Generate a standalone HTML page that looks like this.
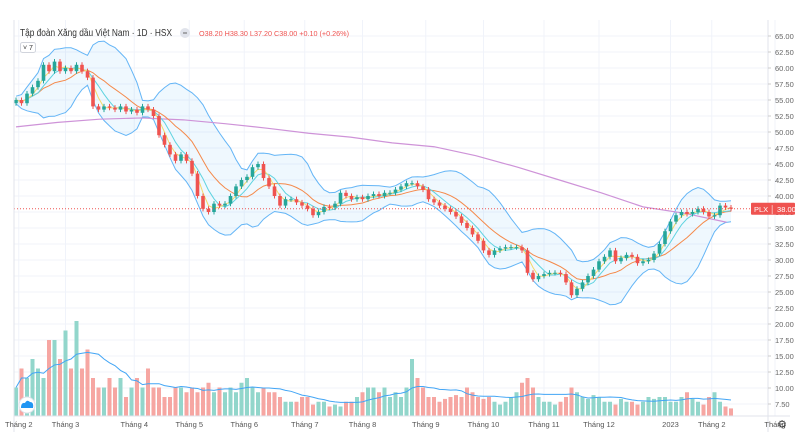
<!DOCTYPE html>
<html><head><meta charset="utf-8">
<style>
body{margin:0;background:#fff;font-family:"Liberation Sans","Noto Sans CJK SC",sans-serif;}
#wrap{position:relative;width:811px;height:445px;overflow:hidden;}
svg text{font-family:"Liberation Sans","Noto Sans CJK SC",sans-serif;}
</style></head>
<body>
<div id="wrap">
<svg id="chart" width="811" height="445"></svg>
</div>
<script>
const closes=[55.0,54.5,56,57,58,60.5,59.5,61,59.5,60,59.5,60.5,59.5,58.5,54,53.5,54,53.8,53.5,54,53.2,53.5,53,54,53.5,52.5,49.5,48,46.5,45.5,46.5,45.5,43.5,40,38,37.5,38.8,38.5,38.8,40,41.5,42.5,43,44.5,45,42.8,41.5,40,38.5,39.5,39.5,39,38.5,38,37,37.5,38.3,38.2,38.8,40.5,40,39.5,39.8,39.5,40,40.3,40,40.5,40.5,41,41.5,42,42,41.5,41,39.5,39,38.5,38,37.5,36.8,35.8,35,34,33,31.5,30.8,31.5,31.8,32,32,32,31.5,28,27,27.5,27.8,28,28,27.8,26.5,24.5,25.5,26.5,27.5,28.5,29.8,30.5,31.5,29.8,30.3,30.8,30.5,29.5,29.8,30,31,32.5,34.5,36,37,37.5,37.2,37.5,38,37.5,36.8,37,38.5,38.2,38.0];
const volumes=[3,5,4,6,5,4,8,8,6,9,5,10,5,7,4,3,3,4,3,4,2,3,4,3,5,3,3,2,2,3,3,2.5,3,2.5,3,3.5,2.5,3,2.5,3,2.5,3.5,4,3,2.5,3,2.5,2.5,2,1.5,1.5,1.5,2,2,1.2,1.5,1.5,1,1.2,1,1.5,1.5,2,2.5,3,3,2.5,3,2,2.5,2,3,6,4,3,2,2,1.5,1.8,2,2.2,2,3,2.5,2,1.8,2,1.5,1.2,1.5,2,2.5,3.5,4,3,2,1.5,1.5,1.2,1.5,2,3,2.5,2,1.8,2.2,2,1.5,1.5,1.2,1.8,1.5,1.5,1.2,1.5,2,1.8,2,2,1.5,1.5,2,2.5,1.8,1.5,1.2,2,2.5,1.5,1,0.8];
const ma200=[50.8,51.5,52,52.2,51.9,51.3,50.6,49.8,49.2,48.3,47.7,46.3,44.5,42.5,40.5,38.3,37.3,35.9];
const priceTicks=["65.00","62.50","60.00","57.50","55.00","52.50","50.00","47.50","45.00","42.50","40.00","37.50","35.00","32.50","30.00","27.50","25.00","22.50","20.00","17.50","15.00","12.50","10.00","7.50"];
const monthLabels=["Tháng 2","Tháng 3","Tháng 4","Tháng 5","Tháng 6","Tháng 7","Tháng 8","Tháng 9","Tháng 10","Tháng 11","Tháng 12","2023","Tháng 2","Tháng"];
const monthIdx=[0.5,9,21.5,31.5,41.5,52.5,63,74.5,85,96,106,119,126.5,138];

const NS="http://www.w3.org/2000/svg";
const svg=document.getElementById('chart');
function el(t,a,p){const e=document.createElementNS(NS,t);for(const k in a)e.setAttribute(k,a[k]);(p||svg).appendChild(e);return e;}
const y=p=>36+(65-p)*6.4;
const x=i=>16+i*5.5;
const vy=v=>416-v*9.5;
const L=14,R=768,B=416;

priceTicks.forEach(t=>{const g=el('line',{x1:L,x2:R,y1:y(+t),y2:y(+t),stroke:'#f0f3fa','stroke-width':1});
});
monthIdx.forEach(m=>{const g=el('line',{x1:x(m),x2:x(m),y1:20,y2:B,stroke:'#f0f3fa'});
});

function sma(n){return closes.map((c,i)=>{const s=closes.slice(Math.max(0,i-n+1),i+1);return s.reduce((a,b)=>a+b,0)/s.length;});}
const bw=10, mid=sma(bw);
const up=[],lo=[];
closes.forEach((c,i)=>{const s=closes.slice(Math.max(0,i-bw+1),i+1);const m=mid[i];const sd=Math.sqrt(s.reduce((a,b)=>a+(b-m)*(b-m),0)/s.length);up.push(m+2*sd+0.6);lo.push(m-2*sd-0.6);});
const path=arr=>arr.map((v,i)=>(i?'L':'M')+x(i).toFixed(1)+' '+y(v).toFixed(1)).join(' ');
let fill=path(up)+' '+lo.map((v,i)=>i).reverse().map(i=>'L'+x(i).toFixed(1)+' '+y(lo[i]).toFixed(1)).join(' ')+'Z';
const bf=el('path',{d:fill,fill:'rgba(33,150,243,0.07)'});
const bu=el('path',{d:path(up),fill:'none',stroke:'#64b5f6','stroke-width':1});
const bl=el('path',{d:path(lo),fill:'none',stroke:'#64b5f6','stroke-width':1});
const m2=el('path',{d:ma200.map((v,k)=>(k?'L':'M')+x(Math.min(k*7.6,130))+' '+y(v)).join(' '),fill:'none',stroke:'#ce93d8','stroke-width':1.2});

const mO=el('path',{d:path(sma(10)),fill:'none',stroke:'#f5894a','stroke-width':1});
const mC=el('path',{d:path(sma(5)),fill:'none',stroke:'#5fd3e0','stroke-width':1});
const mY=el('path',{d:path(sma(3)),fill:'none',stroke:'#f5d96b','stroke-width':1});

volumes.forEach((v,i)=>{const upb=i==0||closes[i]>=closes[i-1];
const r=el('rect',{x:x(i)-2,y:vy(v),width:4,height:B-vy(v),fill:upb?'#92d6cb':'#f6a6a2'});
});
const vma=volumes.map((v,i)=>{const s=volumes.slice(Math.max(0,i-9),i+1);return s.reduce((a,b)=>a+b,0)/s.length;});
const vl=el('path',{d:vma.map((v,i)=>(i?'L':'M')+x(i)+' '+vy(v)).join(' '),fill:'none',stroke:'#42a5f5','stroke-width':1});


closes.forEach((c,i)=>{const o=i?closes[i-1]:c-0.5;const upc=c>=o;const col=upc?'#26a69a':'#ef5350';
const hi=Math.max(o,c)+0.4,lw=Math.min(o,c)-0.4;
const w=el('line',{x1:x(i),x2:x(i),y1:y(hi),y2:y(lw),stroke:col,'stroke-width':1});

const b=el('rect',{x:x(i)-1.8,y:y(Math.max(o,c)),width:3.6,height:Math.max(1,Math.abs(y(o)-y(c))),fill:col});
});

const lp=el('line',{x1:L,x2:R,y1:y(38),y2:y(38),stroke:'#ef5350','stroke-width':1,'stroke-dasharray':'1 2'});


const ax=el('line',{x1:R,x2:R,y1:20,y2:432,stroke:'#e0e3eb'});
const axl=el('line',{x1:L,x2:L,y1:20,y2:432,stroke:'#e0e3eb'});
const axb=el('line',{x1:L,x2:790,y1:B,y2:B,stroke:'#e0e3eb'});
priceTicks.forEach(t=>{const tx=el('text',{x:775,y:y(+t)+3,'font-size':7.5,fill:'#666'});tx.textContent=t;

const tk=el('line',{x1:R,x2:R+3,y1:y(+t),y2:y(+t),stroke:'#ccc'});});
monthLabels.forEach((m,k)=>{const tx=el('text',{x:x(monthIdx[k]),y:427,'font-size':7.5,fill:'#555','text-anchor':'middle'});tx.textContent=m;
});
const g=el('g',{});
el('rect',{x:751,y:y(38)-6,width:44,height:12,fill:'#ef5350',rx:1},g);
const pt=el('text',{x:754,y:y(38)+3,'font-size':7.5,fill:'#fff'},g);pt.textContent='PLX │ 38.00';
const h=el('text',{x:20,y:36,'font-size':10,fill:'#333',textLength:152,lengthAdjust:'spacingAndGlyphs'});h.textContent='Tập đoàn Xăng dầu Việt Nam · 1D · HSX';

const hc=el('circle',{cx:185,cy:33,r:5,fill:'#e0e3eb'});
const hl=el('line',{x1:183,x2:187,y1:33,y2:33,stroke:'#666'});
const oh=el('text',{x:199,y:36,'font-size':7.5,fill:'#ef5350',textLength:150,lengthAdjust:'spacingAndGlyphs'});oh.textContent='O38.20 H38.30 L37.20 C38.00 +0.10 (+0.26%)';

const ib=el('rect',{x:20.5,y:42.5,width:15,height:10,fill:'#fff',stroke:'#d1d4dc',rx:2});
const it=el('text',{x:23,y:50,'font-size':7,fill:'#333'});it.textContent='˅ 7';
const lg=el('circle',{cx:27,cy:405,r:8,fill:'#fff',stroke:'#e0e3eb'});
const lc=el('path',{d:'M21 408 Q21 402 25 403 Q27 399 30 402 Q34 402 33 408 Z',fill:'#2196f3'});
const st=el('text',{x:782,y:428,'font-size':11,fill:'#444','text-anchor':'middle'});st.textContent='⚙';
</script>
</body></html>
